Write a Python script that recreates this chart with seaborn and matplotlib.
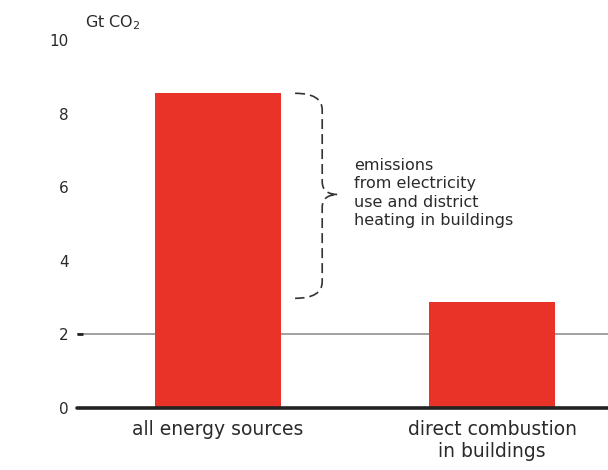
import numpy as np
import pandas as pd
import matplotlib
matplotlib.use("Agg")
import matplotlib.pyplot as plt
from matplotlib.path import Path
from matplotlib.patches import PathPatch
import seaborn as sns

# ============================================================
# DATA
# ============================================================
categories = ["all energy sources", "direct combustion\nin buildings"]
values = [8.55, 2.88]
yticks = [0, 2, 4, 6, 8, 10]
unit_label = "Gt CO$_2$"
brace_text = "emissions\nfrom electricity\nuse and district\nheating in buildings"

BAR_COLOR = "#EA3328"
TEXT = "#2a2a2a"

sns.set_theme(style="white")
plt.rcParams["font.family"] = ["DejaVu Sans"]
plt.rcParams["mathtext.fontset"] = "dejavusans"

df = pd.DataFrame({"source": categories, "emissions": values})

fig = plt.figure(figsize=(6.08, 4.70), dpi=100)
ax = fig.add_axes([0.1266, 0.132, 0.8734, 0.783])

sns.barplot(data=df, x="source", y="emissions", color=BAR_COLOR,
            width=0.46, saturation=1, linewidth=0, ax=ax)

ax.set_xlim(-0.515, 1.423)
ax.set_ylim(0, 10)
ax.set_yticks(yticks)
ax.set_yticklabels([str(t) for t in yticks], fontsize=11, color=TEXT)
ax.tick_params(axis="y", length=0, pad=6)
ax.tick_params(axis="x", length=0, pad=9, labelsize=13.5, labelcolor=TEXT)
for lab in ax.get_xticklabels():
    lab.set_linespacing(1.15)
ax.set_xlabel("")
ax.set_ylabel("")
for s in ax.spines.values():
    s.set_visible(False)

# zero line and the line at 2 (with a short darker tick)
ax.axhline(0, color="#222222", lw=2.6, zorder=3, clip_on=False)
ax.axhline(2, color="#9a9a9a", lw=1.3, zorder=0)
ax.plot([-0.515, -0.493], [2, 2], color="#222222", lw=2, solid_capstyle="butt")

ax.text(-0.485, 10.46, unit_label, fontsize=11.5, color=TEXT,
        va="center", ha="left", clip_on=False)

# dashed curly brace between the two bar heights
top = values[0]
bot = values[1] + 0.1
mid = 5.8
x0, x1, xt = 0.281, 0.38, 0.438
verts = [
    (x0, top), (x1, top), (x1, top - 0.45),
    (x1, mid + 0.35),
    (x1, mid), (xt, mid),
    (x1, mid), (x1, mid - 0.35),
    (x1, bot + 0.45),
    (x1, bot), (x0, bot),
]
codes = [Path.MOVETO, Path.CURVE3, Path.CURVE3,
         Path.LINETO,
         Path.CURVE3, Path.CURVE3,
         Path.CURVE3, Path.CURVE3,
         Path.LINETO,
         Path.CURVE3, Path.CURVE3]
brace = PathPatch(Path(verts, codes), fill=False, edgecolor="#333333",
                  lw=1.2, linestyle=(0, (6, 3)))
ax.add_patch(brace)

ax.text(0.496, 5.84, brace_text, fontsize=11.5, color=TEXT,
        va="center", ha="left", linespacing=1.3)

fig.savefig("out.png", dpi=100)
